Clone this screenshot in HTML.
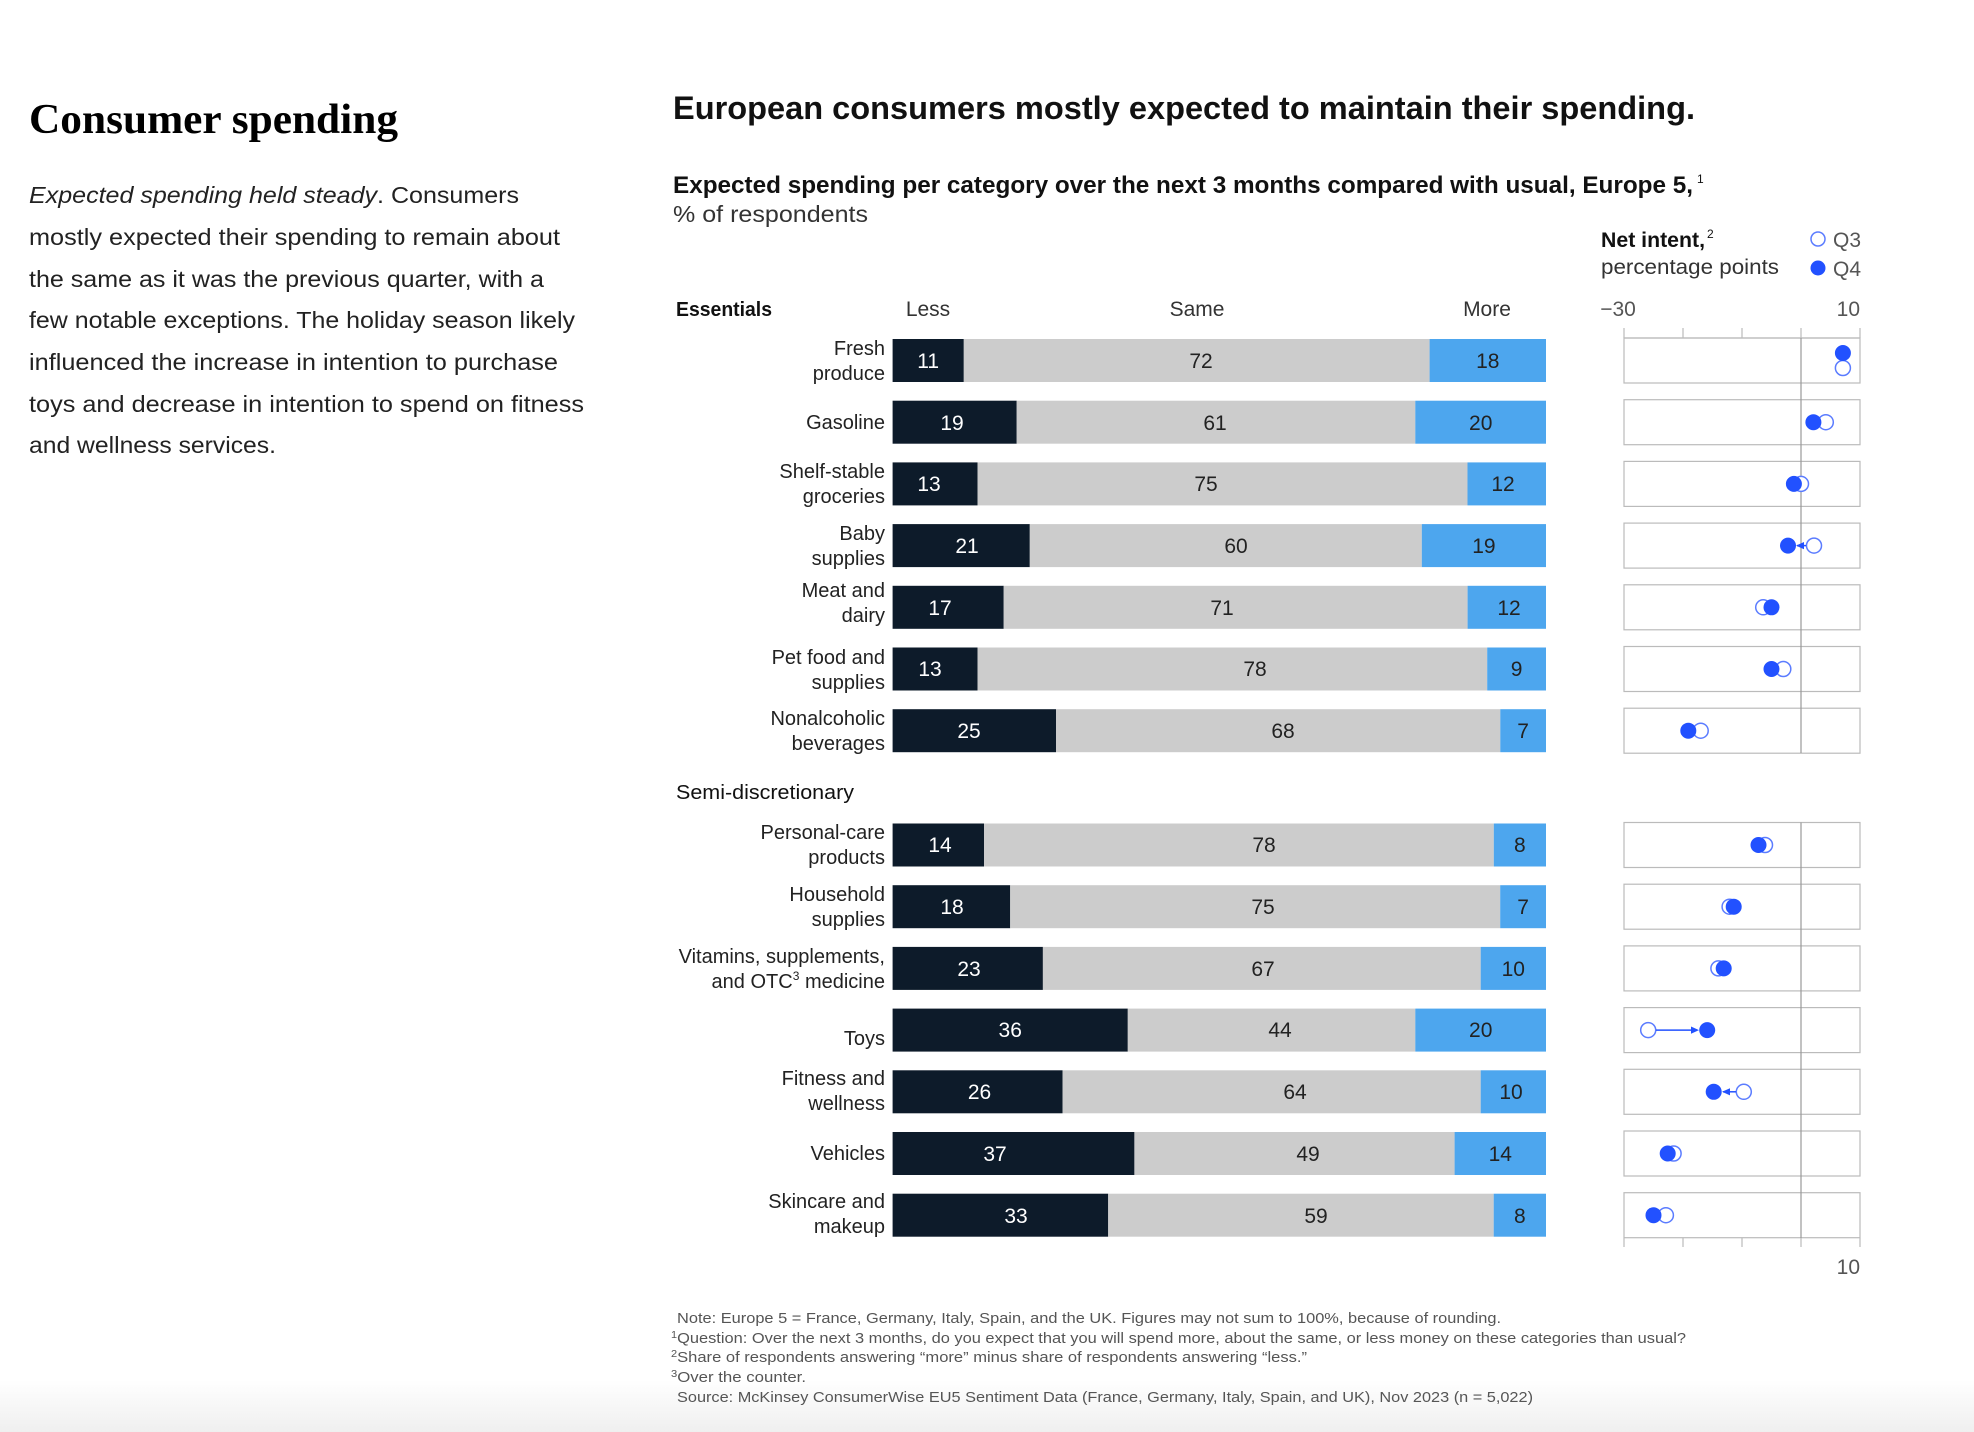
<!DOCTYPE html>
<html><head><meta charset="utf-8"><style>
html,body{margin:0;padding:0;background:#fff}
svg{display:block}
text{font-family:"Liberation Sans",Arial,sans-serif}
.lb{font-size:20px;fill:#222;text-anchor:end}
.v{font-size:21px;text-anchor:middle}
.w{fill:#fff}.k{fill:#222}
.fn{font-size:15px;fill:#555}
.p{font-size:23px;fill:#222}
</style></head><body>
<svg width="1974" height="1432" viewBox="0 0 1974 1432" xmlns="http://www.w3.org/2000/svg">
<defs><linearGradient id="g" x1="0" y1="0" x2="0" y2="1"><stop offset="0" stop-color="#fff"/><stop offset="1" stop-color="#efefef"/></linearGradient></defs>
<rect x="0" y="1380" width="1974" height="52" fill="url(#g)"/>

<text x="29" y="133" font-family="Liberation Serif" font-weight="bold" font-size="42" textLength="369" lengthAdjust="spacingAndGlyphs" style="font-family:'Liberation Serif',serif">Consumer spending</text>
<text class="p" x="29" y="203" textLength="490" lengthAdjust="spacingAndGlyphs"><tspan font-style="italic">Expected spending held steady</tspan>. Consumers</text>
<text class="p" x="29" y="245" textLength="531" lengthAdjust="spacingAndGlyphs">mostly expected their spending to remain about</text>
<text class="p" x="29" y="287" textLength="515" lengthAdjust="spacingAndGlyphs">the same as it was the previous quarter, with a</text>
<text class="p" x="29" y="328" textLength="546" lengthAdjust="spacingAndGlyphs">few notable exceptions. The holiday season likely</text>
<text class="p" x="29" y="370" textLength="529" lengthAdjust="spacingAndGlyphs">influenced the increase in intention to purchase</text>
<text class="p" x="29" y="412" textLength="555" lengthAdjust="spacingAndGlyphs">toys and decrease in intention to spend on fitness</text>
<text class="p" x="29" y="453" textLength="247" lengthAdjust="spacingAndGlyphs">and wellness services.</text>

<text x="673" y="119" font-size="32" font-weight="bold" fill="#111" textLength="1022" lengthAdjust="spacingAndGlyphs">European consumers mostly expected to maintain their spending.</text>
<text x="673" y="193" font-size="24" font-weight="bold" fill="#111" textLength="1020" lengthAdjust="spacingAndGlyphs">Expected spending per category over the next 3 months compared with usual, Europe 5,</text>
<text x="1697" y="183" font-size="12" fill="#111">1</text>
<text x="673" y="222" font-size="23" fill="#333" textLength="195" lengthAdjust="spacingAndGlyphs">% of respondents</text>

<text x="1601" y="247" font-size="21" font-weight="bold" fill="#111" textLength="104" lengthAdjust="spacingAndGlyphs">Net intent,</text>
<text x="1707" y="238" font-size="12" fill="#111">2</text>
<text x="1601" y="274" font-size="21" fill="#333" textLength="178" lengthAdjust="spacingAndGlyphs">percentage points</text>
<circle cx="1818" cy="239" r="7" fill="#fff" stroke="#5b7cff" stroke-width="1.5"/>
<text x="1833" y="247" font-size="21" fill="#555">Q3</text>
<circle cx="1818" cy="268" r="7.5" fill="#2251ff"/>
<text x="1833" y="276" font-size="21" fill="#555">Q4</text>

<text x="676" y="316" font-size="20" fill="#111" font-weight="bold" textLength="96" lengthAdjust="spacingAndGlyphs" style="font-weight:600">Essentials</text>
<text x="928" y="316" font-size="21" fill="#333" text-anchor="middle">Less</text>
<text x="1197" y="316" font-size="21" fill="#333" text-anchor="middle">Same</text>
<text x="1487" y="316" font-size="21" fill="#333" text-anchor="middle">More</text>
<text x="1618" y="316" font-size="21" fill="#555" text-anchor="middle">−30</text>
<text x="1860" y="316" font-size="21" fill="#555" text-anchor="end">10</text>
<text x="676" y="799" font-size="20" fill="#111" textLength="178" lengthAdjust="spacingAndGlyphs">Semi-discretionary</text>

<g stroke="#bbb" stroke-width="1.2" fill="none">
<line x1="1624" y1="338" x2="1860" y2="338"/>
<line x1="1624" y1="328" x2="1624" y2="338"/><line x1="1683" y1="328" x2="1683" y2="338"/><line x1="1742" y1="328" x2="1742" y2="338"/><line x1="1801" y1="328" x2="1801" y2="338"/><line x1="1860" y1="328" x2="1860" y2="338"/>
<line x1="1624" y1="1238" x2="1624" y2="1247"/><line x1="1683" y1="1238" x2="1683" y2="1247"/><line x1="1742" y1="1238" x2="1742" y2="1247"/><line x1="1801" y1="1238" x2="1801" y2="1247"/><line x1="1860" y1="1238" x2="1860" y2="1247"/>
<rect x="1624" y="338" width="236" height="45"/>
<rect x="1624" y="399.7" width="236" height="45"/>
<rect x="1624" y="461.4" width="236" height="45"/>
<rect x="1624" y="523.1" width="236" height="45"/>
<rect x="1624" y="584.8" width="236" height="45"/>
<rect x="1624" y="646.5" width="236" height="45"/>
<rect x="1624" y="708.2" width="236" height="45"/>
<rect x="1624" y="822.5" width="236" height="45"/>
<rect x="1624" y="884.2" width="236" height="45"/>
<rect x="1624" y="945.9" width="236" height="45"/>
<rect x="1624" y="1007.6" width="236" height="45"/>
<rect x="1624" y="1069.3" width="236" height="45"/>
<rect x="1624" y="1131" width="236" height="45"/>
<rect x="1624" y="1192.7" width="236" height="45"/>
</g>
<g stroke="#999" stroke-width="1.2">
<line x1="1801" y1="338" x2="1801" y2="753"/>
<line x1="1801" y1="822.5" x2="1801" y2="1238"/>
</g>
<text x="1860" y="1274" font-size="21" fill="#555" text-anchor="end">10</text>

<g>
<rect x="892.6" y="339" width="71.2" height="43" fill="#0d1b2a"/><rect x="963.8" y="339" width="465.8" height="43" fill="#cccccc"/><rect x="1429.6" y="339" width="116.4" height="43" fill="#4da6ee"/>
<rect x="892.6" y="400.7" width="124.1" height="43" fill="#0d1b2a"/><rect x="1016.7" y="400.7" width="398.6" height="43" fill="#cccccc"/><rect x="1415.3" y="400.7" width="130.7" height="43" fill="#4da6ee"/>
<rect x="892.6" y="462.4" width="84.9" height="43" fill="#0d1b2a"/><rect x="977.5" y="462.4" width="490" height="43" fill="#cccccc"/><rect x="1467.5" y="462.4" width="78.5" height="43" fill="#4da6ee"/>
<rect x="892.6" y="524.1" width="137.2" height="43" fill="#0d1b2a"/><rect x="1029.8" y="524.1" width="392" height="43" fill="#cccccc"/><rect x="1421.8" y="524.1" width="124.2" height="43" fill="#4da6ee"/>
<rect x="892.6" y="585.8" width="111.1" height="43" fill="#0d1b2a"/><rect x="1003.7" y="585.8" width="463.9" height="43" fill="#cccccc"/><rect x="1467.6" y="585.8" width="78.4" height="43" fill="#4da6ee"/>
<rect x="892.6" y="647.5" width="84.9" height="43" fill="#0d1b2a"/><rect x="977.5" y="647.5" width="509.7" height="43" fill="#cccccc"/><rect x="1487.2" y="647.5" width="58.8" height="43" fill="#4da6ee"/>
<rect x="892.6" y="709.2" width="163.4" height="43" fill="#0d1b2a"/><rect x="1056" y="709.2" width="444.3" height="43" fill="#cccccc"/><rect x="1500.3" y="709.2" width="45.7" height="43" fill="#4da6ee"/>
<rect x="892.6" y="823.5" width="91.5" height="43" fill="#0d1b2a"/><rect x="984.1" y="823.5" width="509.7" height="43" fill="#cccccc"/><rect x="1493.8" y="823.5" width="52.2" height="43" fill="#4da6ee"/>
<rect x="892.6" y="885.2" width="117.6" height="43" fill="#0d1b2a"/><rect x="1010.2" y="885.2" width="490" height="43" fill="#cccccc"/><rect x="1500.2" y="885.2" width="45.8" height="43" fill="#4da6ee"/>
<rect x="892.6" y="946.9" width="150.3" height="43" fill="#0d1b2a"/><rect x="1042.9" y="946.9" width="437.8" height="43" fill="#cccccc"/><rect x="1480.7" y="946.9" width="65.3" height="43" fill="#4da6ee"/>
<rect x="892.6" y="1008.6" width="235.2" height="43" fill="#0d1b2a"/><rect x="1127.8" y="1008.6" width="287.5" height="43" fill="#cccccc"/><rect x="1415.3" y="1008.6" width="130.7" height="43" fill="#4da6ee"/>
<rect x="892.6" y="1070.3" width="169.9" height="43" fill="#0d1b2a"/><rect x="1062.5" y="1070.3" width="418.2" height="43" fill="#cccccc"/><rect x="1480.7" y="1070.3" width="65.3" height="43" fill="#4da6ee"/>
<rect x="892.6" y="1132" width="241.8" height="43" fill="#0d1b2a"/><rect x="1134.4" y="1132" width="320.2" height="43" fill="#cccccc"/><rect x="1454.6" y="1132" width="91.4" height="43" fill="#4da6ee"/>
<rect x="892.6" y="1193.7" width="215.6" height="43" fill="#0d1b2a"/><rect x="1108.2" y="1193.7" width="385.5" height="43" fill="#cccccc"/><rect x="1493.7" y="1193.7" width="52.3" height="43" fill="#4da6ee"/>
</g>

<g>
<text class="v w" x="928.2" y="368">11</text><text class="v k" x="1201" y="368">72</text><text class="v k" x="1487.8" y="368">18</text>
<text class="v w" x="952" y="430">19</text><text class="v k" x="1215" y="430">61</text><text class="v k" x="1480.7" y="430">20</text>
<text class="v w" x="929" y="491">13</text><text class="v k" x="1206" y="491">75</text><text class="v k" x="1503" y="491">12</text>
<text class="v w" x="967" y="553">21</text><text class="v k" x="1236" y="553">60</text><text class="v k" x="1483.9" y="553">19</text>
<text class="v w" x="940" y="615">17</text><text class="v k" x="1222" y="615">71</text><text class="v k" x="1509" y="615">12</text>
<text class="v w" x="930" y="676">13</text><text class="v k" x="1255" y="676">78</text><text class="v k" x="1516.6" y="676">9</text>
<text class="v w" x="969" y="738">25</text><text class="v k" x="1283" y="738">68</text><text class="v k" x="1523.1" y="738">7</text>
<text class="v w" x="940" y="852">14</text><text class="v k" x="1264" y="852">78</text><text class="v k" x="1519.9" y="852">8</text>
<text class="v w" x="952" y="914">18</text><text class="v k" x="1263" y="914">75</text><text class="v k" x="1523.1" y="914">7</text>
<text class="v w" x="969" y="976">23</text><text class="v k" x="1263" y="976">67</text><text class="v k" x="1513.3" y="976">10</text>
<text class="v w" x="1010.2" y="1037">36</text><text class="v k" x="1280" y="1037">44</text><text class="v k" x="1480.7" y="1037">20</text>
<text class="v w" x="979.5" y="1099">26</text><text class="v k" x="1295" y="1099">64</text><text class="v k" x="1511" y="1099">10</text>
<text class="v w" x="995" y="1161">37</text><text class="v k" x="1308" y="1161">49</text><text class="v k" x="1500.3" y="1161">14</text>
<text class="v w" x="1016" y="1223">33</text><text class="v k" x="1316" y="1223">59</text><text class="v k" x="1519.9" y="1223">8</text>
</g>

<g>
<text class="lb" x="885" y="355">Fresh</text><text class="lb" x="885" y="380">produce</text>
<text class="lb" x="885" y="429">Gasoline</text>
<text class="lb" x="885" y="478">Shelf-stable</text><text class="lb" x="885" y="503">groceries</text>
<text class="lb" x="885" y="540">Baby</text><text class="lb" x="885" y="565">supplies</text>
<text class="lb" x="885" y="597">Meat and</text><text class="lb" x="885" y="622">dairy</text>
<text class="lb" x="885" y="664">Pet food and</text><text class="lb" x="885" y="689">supplies</text>
<text class="lb" x="885" y="725">Nonalcoholic</text><text class="lb" x="885" y="750">beverages</text>
<text class="lb" x="885" y="839">Personal-care</text><text class="lb" x="885" y="864">products</text>
<text class="lb" x="885" y="901">Household</text><text class="lb" x="885" y="926">supplies</text>
<text class="lb" x="885" y="963">Vitamins, supplements,</text><text class="lb" x="885" y="988">and OTC<tspan font-size="12" dy="-8">3</tspan><tspan dy="8"> medicine</tspan></text>
<text class="lb" x="885" y="1045">Toys</text>
<text class="lb" x="885" y="1085">Fitness and</text><text class="lb" x="885" y="1110">wellness</text>
<text class="lb" x="885" y="1160">Vehicles</text>
<text class="lb" x="885" y="1208">Skincare and</text><text class="lb" x="885" y="1233">makeup</text>
</g>

<g stroke="#5b7cff" stroke-width="1.5" fill="#fff">
<circle cx="1842.9" cy="368" r="7.5"/>
<circle cx="1825.8" cy="422.2" r="7.5"/>
<circle cx="1801" cy="483.9" r="7.5"/>
<circle cx="1814" cy="545.6" r="7.5"/>
<circle cx="1763.2" cy="607.3" r="7.5"/>
<circle cx="1783.3" cy="669" r="7.5"/>
<circle cx="1700.7" cy="730.7" r="7.5"/>
<circle cx="1765" cy="845" r="7.5"/>
<circle cx="1729.6" cy="906.7" r="7.5"/>
<circle cx="1718.4" cy="968.4" r="7.5"/>
<circle cx="1648.2" cy="1030.1" r="7.5"/>
<circle cx="1743.8" cy="1091.8" r="7.5"/>
<circle cx="1673.6" cy="1153.5" r="7.5"/>
<circle cx="1665.9" cy="1215.2" r="7.5"/>
</g>
<g stroke="#2251ff" stroke-width="1.5">
<line x1="1806" y1="545.6" x2="1797" y2="545.6"/>
<line x1="1656" y1="1030.1" x2="1697" y2="1030.1"/>
<line x1="1736" y1="1091.8" x2="1723" y2="1091.8"/>
</g>
<g fill="#2251ff">
<polygon points="1796,545.6 1804,542 1804,549.2"/>
<polygon points="1699,1030.1 1691,1026.5 1691,1033.7"/>
<polygon points="1722,1091.8 1730,1088.2 1730,1095.4"/>
<circle cx="1842.9" cy="353" r="8"/>
<circle cx="1813.4" cy="422.2" r="8"/>
<circle cx="1793.9" cy="483.9" r="8"/>
<circle cx="1788" cy="545.6" r="8"/>
<circle cx="1771.5" cy="607.3" r="8"/>
<circle cx="1771.5" cy="669" r="8"/>
<circle cx="1688.3" cy="730.7" r="8"/>
<circle cx="1758.5" cy="845" r="8"/>
<circle cx="1733.7" cy="906.7" r="8"/>
<circle cx="1723.7" cy="968.4" r="8"/>
<circle cx="1707.2" cy="1030.1" r="8"/>
<circle cx="1713.7" cy="1091.8" r="8"/>
<circle cx="1667.7" cy="1153.5" r="8"/>
<circle cx="1653.5" cy="1215.2" r="8"/>
</g>

<text class="fn" x="677" y="1323" textLength="824" lengthAdjust="spacingAndGlyphs">Note: Europe 5 = France, Germany, Italy, Spain, and the UK. Figures may not sum to 100%, because of rounding.</text>
<text class="fn" x="671" y="1343" textLength="1015" lengthAdjust="spacingAndGlyphs"><tspan font-size="10" dy="-5">1</tspan><tspan dy="5">Question: Over the next 3 months, do you expect that you will spend more, about the same, or less money on these categories than usual?</tspan></text>
<text class="fn" x="671" y="1362" textLength="636" lengthAdjust="spacingAndGlyphs"><tspan font-size="10" dy="-5">2</tspan><tspan dy="5">Share of respondents answering “more” minus share of respondents answering “less.”</tspan></text>
<text class="fn" x="671" y="1382" textLength="135" lengthAdjust="spacingAndGlyphs"><tspan font-size="10" dy="-5">3</tspan><tspan dy="5">Over the counter.</tspan></text>
<text class="fn" x="677" y="1402" textLength="856" lengthAdjust="spacingAndGlyphs">Source: McKinsey ConsumerWise EU5 Sentiment Data (France, Germany, Italy, Spain, and UK), Nov 2023 (n = 5,022)</text>
</svg>
</body></html>
